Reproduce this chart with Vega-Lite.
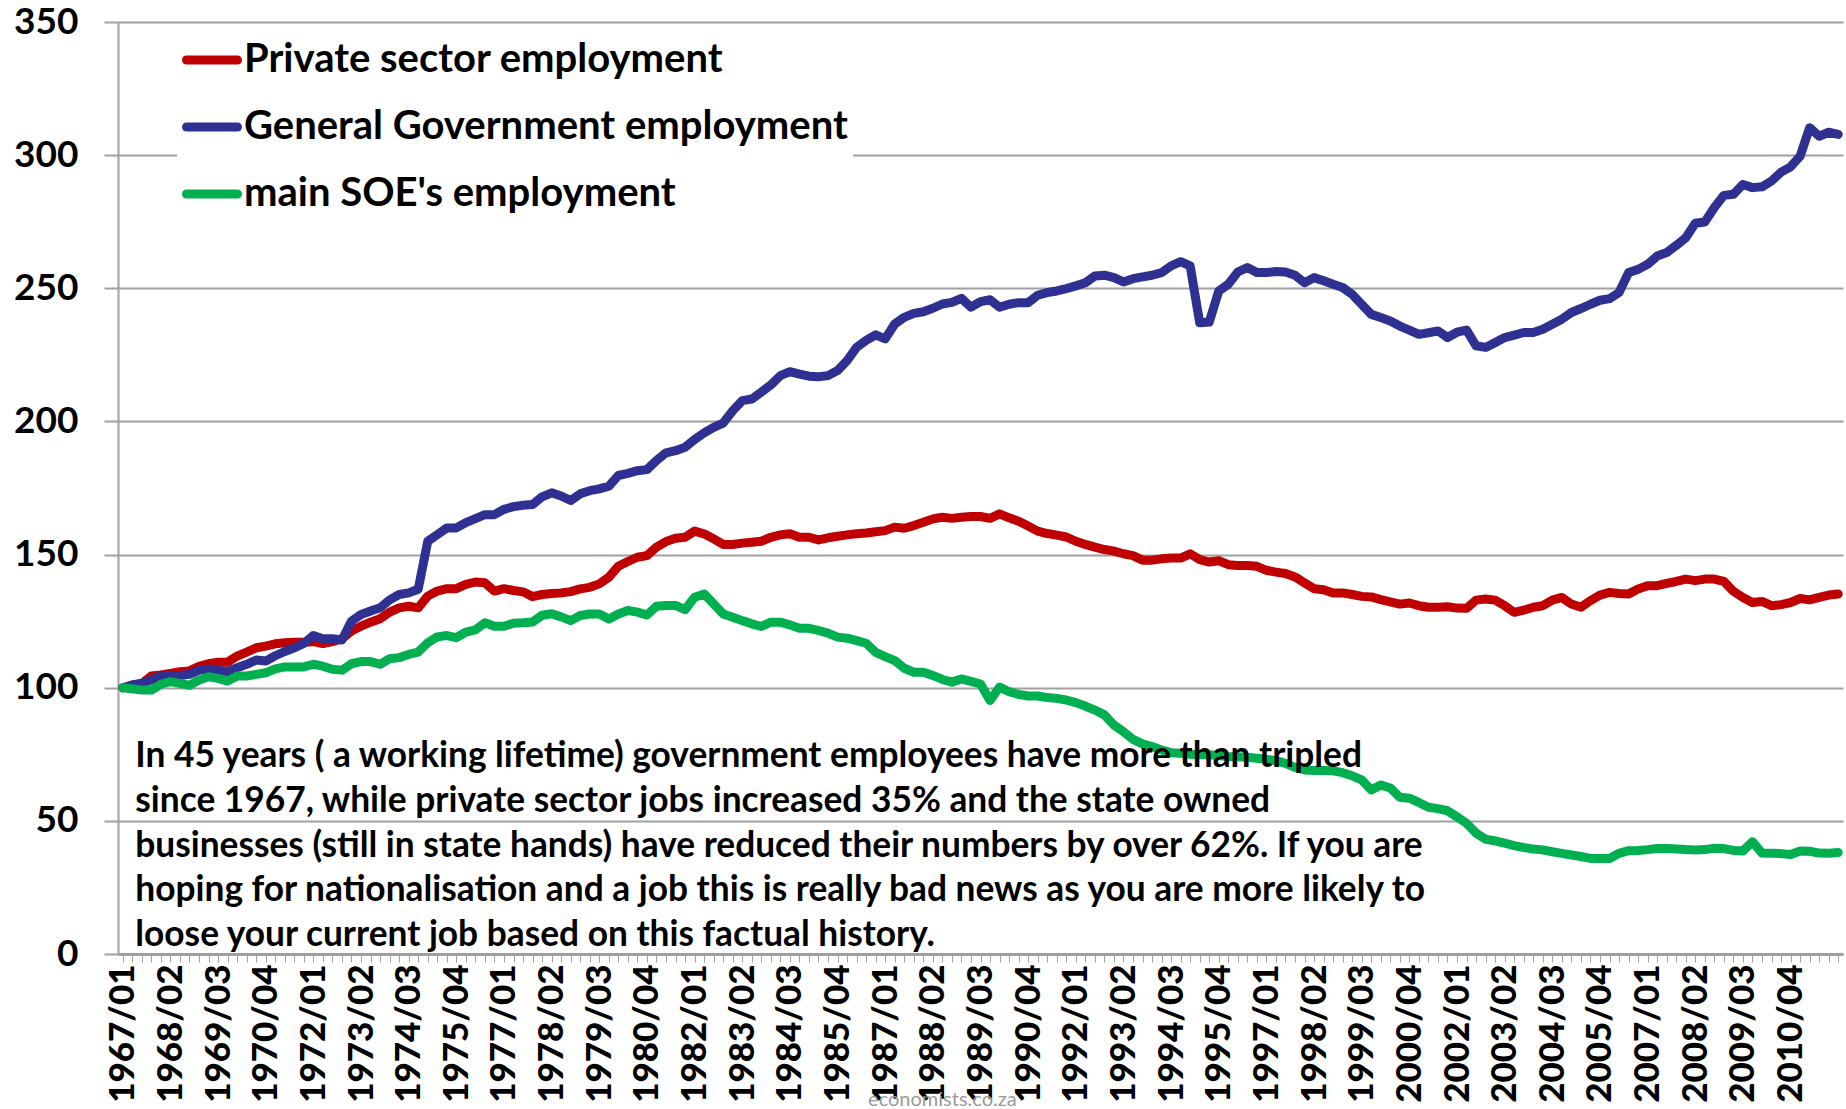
{
"$schema": "https://vega.github.io/schema/vega-lite/v6.json",
"width": 1725, "height": 932,
"autosize": "none",
"padding": {"left": 118, "top": 22, "right": 3, "bottom": 155},
"background": "white",
"config": {"view": {"stroke": null}, "font": "Lato"},
"data": {"values": [
{"q":"1967/01","P":100,"G":100,"S":100},{"q":"1967/02","P":101,"G":101,"S":99.6},{"q":"1967/03","P":101.6,"G":101.6,"S":99.1},{"q":"1967/04","P":104.4,"G":103,"S":99.1},
{"q":"1968/01","P":104.8,"G":104.4,"S":101.3},{"q":"1968/02","P":105.4,"G":104.4,"S":102.3},{"q":"1968/03","P":106,"G":104.6,"S":101.6},{"q":"1968/04","P":106.3,"G":105,"S":100.9},
{"q":"1969/01","P":108,"G":106.6,"S":102.9},{"q":"1969/02","P":109,"G":107,"S":104.1},{"q":"1969/03","P":109.6,"G":106.5,"S":103.5},{"q":"1969/04","P":109.6,"G":106,"S":102.5},
{"q":"1970/01","P":111.9,"G":107.5,"S":104.4},{"q":"1970/02","P":113.4,"G":108.8,"S":104.4},{"q":"1970/03","P":115,"G":110.4,"S":105},{"q":"1970/04","P":115.6,"G":110,"S":105.6},
{"q":"1971/01","P":116.5,"G":112,"S":107.1},{"q":"1971/02","P":116.9,"G":113.6,"S":107.8},{"q":"1971/03","P":117.1,"G":115,"S":107.8},{"q":"1971/04","P":117.1,"G":116.6,"S":107.8},
{"q":"1972/01","P":117.3,"G":119.6,"S":108.8},{"q":"1972/02","P":116.6,"G":118.4,"S":108.1},{"q":"1972/03","P":117.3,"G":118.4,"S":106.9},{"q":"1972/04","P":118.4,"G":117.9,"S":106.6},
{"q":"1973/01","P":121.3,"G":125,"S":109},{"q":"1973/02","P":123.1,"G":127.5,"S":109.8},{"q":"1973/03","P":124.6,"G":128.8,"S":109.8},{"q":"1973/04","P":125.9,"G":130,"S":108.8},
{"q":"1974/01","P":128.4,"G":133,"S":110.9},{"q":"1974/02","P":130,"G":135,"S":111.3},{"q":"1974/03","P":130.6,"G":135.6,"S":112.5},{"q":"1974/04","P":130,"G":137,"S":113.4},
{"q":"1975/01","P":134.4,"G":155,"S":116.9},{"q":"1975/02","P":136.3,"G":157.5,"S":119.1},{"q":"1975/03","P":137.2,"G":160,"S":119.6},{"q":"1975/04","P":137.2,"G":160,"S":118.8},
{"q":"1976/01","P":138.8,"G":162,"S":120.9},{"q":"1976/02","P":139.7,"G":163.5,"S":121.7},{"q":"1976/03","P":139.4,"G":165,"S":124.4},{"q":"1976/04","P":136.3,"G":165,"S":123.1},
{"q":"1977/01","P":137.2,"G":167,"S":123.1},{"q":"1977/02","P":136.5,"G":168,"S":124.2},{"q":"1977/03","P":136,"G":168.5,"S":124.4},{"q":"1977/04","P":134.2,"G":168.8,"S":124.7},
{"q":"1978/01","P":135,"G":171.7,"S":127.2},{"q":"1978/02","P":135.4,"G":173.2,"S":127.8},{"q":"1978/03","P":135.6,"G":172,"S":126.6},{"q":"1978/04","P":136.1,"G":170.3,"S":125.2},
{"q":"1979/01","P":137.1,"G":172.8,"S":127.1},{"q":"1979/02","P":137.7,"G":174,"S":127.7},{"q":"1979/03","P":139,"G":174.7,"S":127.7},{"q":"1979/04","P":141.5,"G":175.7,"S":125.8},
{"q":"1980/01","P":145.6,"G":179.7,"S":127.7},{"q":"1980/02","P":147.4,"G":180.5,"S":129},{"q":"1980/03","P":149,"G":181.5,"S":128.4},{"q":"1980/04","P":149.6,"G":181.9,"S":127.3},
{"q":"1981/01","P":152.8,"G":185.3,"S":130.6},{"q":"1981/02","P":154.9,"G":188.2,"S":130.9},{"q":"1981/03","P":156.1,"G":189,"S":130.9},{"q":"1981/04","P":156.5,"G":190.3,"S":129.3},
{"q":"1982/01","P":158.8,"G":193.2,"S":134},{"q":"1982/02","P":157.8,"G":195.7,"S":135.2},{"q":"1982/03","P":155.9,"G":197.8,"S":131.5},{"q":"1982/04","P":153.8,"G":199.4,"S":127.7},
{"q":"1983/01","P":153.8,"G":204,"S":126.5},{"q":"1983/02","P":154.3,"G":207.8,"S":125.2},{"q":"1983/03","P":154.6,"G":208.4,"S":124},{"q":"1983/04","P":155,"G":211,"S":123},
{"q":"1984/01","P":156.5,"G":213.7,"S":124.6},{"q":"1984/02","P":157.4,"G":217.2,"S":124.6},{"q":"1984/03","P":157.8,"G":218.7,"S":123.6},{"q":"1984/04","P":156.5,"G":217.8,"S":122.3},
{"q":"1985/01","P":156.5,"G":217,"S":122.3},{"q":"1985/02","P":155.5,"G":216.8,"S":121.5},{"q":"1985/03","P":156.3,"G":217.2,"S":120.5},{"q":"1985/04","P":156.9,"G":219.1,"S":119},
{"q":"1986/01","P":157.4,"G":222.8,"S":118.6},{"q":"1986/02","P":157.8,"G":227.8,"S":117.7},{"q":"1986/03","P":158.1,"G":230.4,"S":116.7},{"q":"1986/04","P":158.6,"G":232.5,"S":113.3},
{"q":"1987/01","P":159,"G":231,"S":111.7},{"q":"1987/02","P":160.3,"G":236.6,"S":110.2},{"q":"1987/03","P":159.9,"G":239.1,"S":107.3},{"q":"1987/04","P":160.9,"G":240.6,"S":105.8},
{"q":"1988/01","P":162.1,"G":241.2,"S":105.8},{"q":"1988/02","P":163.4,"G":242.5,"S":104.6},{"q":"1988/03","P":164,"G":244.1,"S":103.1},{"q":"1988/04","P":163.6,"G":244.7,"S":102.1},
{"q":"1989/01","P":164,"G":246.2,"S":103.3},{"q":"1989/02","P":164.3,"G":242.9,"S":102.4},{"q":"1989/03","P":164.3,"G":245,"S":101.4},{"q":"1989/04","P":163.6,"G":245.7,"S":95.2},
{"q":"1990/01","P":165.3,"G":242.9,"S":100.2},{"q":"1990/02","P":163.8,"G":244,"S":98.5},{"q":"1990/03","P":162.5,"G":244.6,"S":97.5},{"q":"1990/04","P":160.7,"G":244.6,"S":96.9},
{"q":"1991/01","P":158.8,"G":247.4,"S":96.9},{"q":"1991/02","P":157.9,"G":248.4,"S":96.3},{"q":"1991/03","P":157.3,"G":249,"S":96},{"q":"1991/04","P":156.6,"G":249.9,"S":95.4},
{"q":"1992/01","P":155,"G":250.9,"S":94.4},{"q":"1992/02","P":153.8,"G":252.1,"S":93.1},{"q":"1992/03","P":152.8,"G":254.6,"S":91.6},{"q":"1992/04","P":151.9,"G":254.9,"S":89.8},
{"q":"1993/01","P":151.3,"G":254,"S":86},{"q":"1993/02","P":150.3,"G":252.4,"S":83.5},{"q":"1993/03","P":149.6,"G":253.6,"S":80.6},{"q":"1993/04","P":147.9,"G":254.3,"S":78.9},
{"q":"1994/01","P":147.9,"G":254.9,"S":77.9},{"q":"1994/02","P":148.4,"G":255.9,"S":76.6},{"q":"1994/03","P":148.7,"G":258.4,"S":75.6},{"q":"1994/04","P":148.7,"G":260,"S":75.4},
{"q":"1995/01","P":150.3,"G":258.4,"S":75},{"q":"1995/02","P":148.1,"G":237.1,"S":74.8},{"q":"1995/03","P":147.2,"G":237.3,"S":74.8},{"q":"1995/04","P":147.7,"G":249,"S":74.5},
{"q":"1996/01","P":146.2,"G":251.5,"S":74.1},{"q":"1996/02","P":145.9,"G":256.1,"S":74.1},{"q":"1996/03","P":145.9,"G":257.8,"S":73.9},{"q":"1996/04","P":145.6,"G":255.9,"S":73.5},
{"q":"1997/01","P":144.1,"G":255.9,"S":73.1},{"q":"1997/02","P":143.4,"G":256.3,"S":72.6},{"q":"1997/03","P":142.9,"G":256.1,"S":71.6},{"q":"1997/04","P":141.6,"G":254.9,"S":70.1},
{"q":"1998/01","P":139.4,"G":252.1,"S":69.1},{"q":"1998/02","P":137.2,"G":254,"S":68.9},{"q":"1998/03","P":136.8,"G":252.8,"S":68.9},{"q":"1998/04","P":135.6,"G":251.5,"S":68.8},
{"q":"1999/01","P":135.6,"G":250.3,"S":68.1},{"q":"1999/02","P":135,"G":247.7,"S":66.9},{"q":"1999/03","P":134.3,"G":244,"S":65.4},{"q":"1999/04","P":134.1,"G":240.2,"S":61.6},
{"q":"2000/01","P":133.1,"G":239,"S":63.5},{"q":"2000/02","P":132.2,"G":237.7,"S":62.3},{"q":"2000/03","P":131.4,"G":235.8,"S":58.9},{"q":"2000/04","P":131.8,"G":234.3,"S":58.5},
{"q":"2001/01","P":130.8,"G":232.7,"S":56.9},{"q":"2001/02","P":130.2,"G":233.3,"S":55.1},{"q":"2001/03","P":130.2,"G":234,"S":54.6},{"q":"2001/04","P":130.4,"G":231.5,"S":53.8},
{"q":"2002/01","P":129.9,"G":233.5,"S":51.5},{"q":"2002/02","P":129.8,"G":234.3,"S":49.1},{"q":"2002/03","P":132.9,"G":228.4,"S":45.4},{"q":"2002/04","P":133.3,"G":227.8,"S":43.1},
{"q":"2003/01","P":132.9,"G":229.6,"S":42.5},{"q":"2003/02","P":130.8,"G":231.5,"S":41.6},{"q":"2003/03","P":128.3,"G":232.4,"S":40.7},{"q":"2003/04","P":129.1,"G":233.4,"S":40},
{"q":"2004/01","P":130.2,"G":233.4,"S":39.4},{"q":"2004/02","P":130.8,"G":234.6,"S":39.1},{"q":"2004/03","P":132.9,"G":236.5,"S":38.4},{"q":"2004/04","P":133.9,"G":238.4,"S":37.8},
{"q":"2005/01","P":131.4,"G":240.9,"S":37.2},{"q":"2005/02","P":130.2,"G":242.4,"S":36.6},{"q":"2005/03","P":132.7,"G":244,"S":35.9},{"q":"2005/04","P":134.8,"G":245.5,"S":35.9},
{"q":"2006/01","P":135.8,"G":246.1,"S":35.9},{"q":"2006/02","P":135.4,"G":248.4,"S":37.8},{"q":"2006/03","P":135.2,"G":255.9,"S":38.8},{"q":"2006/04","P":137.1,"G":257.1,"S":38.9},
{"q":"2007/01","P":138.3,"G":259,"S":39.2},{"q":"2007/02","P":138.3,"G":262.1,"S":39.6},{"q":"2007/03","P":139.2,"G":263.4,"S":39.6},{"q":"2007/04","P":139.9,"G":266.1,"S":39.4},
{"q":"2008/01","P":140.8,"G":269,"S":39.2},{"q":"2008/02","P":140.2,"G":274.4,"S":39.1},{"q":"2008/03","P":140.8,"G":274.9,"S":39.2},{"q":"2008/04","P":140.8,"G":280.3,"S":39.7},
{"q":"2009/01","P":139.9,"G":284.9,"S":39.6},{"q":"2009/02","P":136.2,"G":285.3,"S":38.9},{"q":"2009/03","P":133.9,"G":289,"S":38.7},{"q":"2009/04","P":132,"G":287.8,"S":42.2},
{"q":"2010/01","P":132.4,"G":288.1,"S":37.9},{"q":"2010/02","P":130.8,"G":290.3,"S":37.8},{"q":"2010/03","P":131.2,"G":293.6,"S":37.7},{"q":"2010/04","P":132,"G":295.6,"S":37.4},
{"q":"2011/01","P":133.5,"G":299.6,"S":38.7},{"q":"2011/02","P":133,"G":310.3,"S":38.6},{"q":"2011/03","P":133.9,"G":307.1,"S":37.9},{"q":"2011/04","P":134.8,"G":308.6,"S":37.8},
{"q":"2012/01","P":135.2,"G":307.8,"S":38.1}
]},
"layer": [
{
"transform": [{"fold": ["P","G","S"], "as": ["k","v"]}],
"mark": {"type": "line", "strokeWidth": 9, "strokeCap": "round", "strokeJoin": "round"},
"encoding": {
"x": {"field": "q", "type": "ordinal", "sort": null, "scale": {"type": "point", "padding": 0.5},
"axis": {"title": null, "labelAngle": -90, "labelExpr": "(datum.value != '2012/01') && ((toNumber(slice(datum.value,0,4))-1967)*4+toNumber(slice(datum.value,5,7))-1)%5==0 ? datum.value : ''", "labelOverlap": false, "labelBound": false, "labelFont": "Lato", "labelFontWeight": 900, "labelFontSize": 35, "labelColor": "black", "labelPadding": 2, "tickSize": 8, "tickColor": "#A0A0A0", "tickWidth": 1, "domainColor": "#A0A0A0", "domainWidth": 3, "grid": false}},
"y": {"field": "v", "type": "quantitative", "scale": {"domain": [0, 350], "nice": false},
"axis": {"title": null, "values": [0,50,100,150,200,250,300,350], "grid": true, "gridColor": "#A0A0A0", "gridWidth": 2, "domainColor": "#A0A0A0", "domainWidth": 2, "tickSize": 14, "tickColor": "#A0A0A0", "tickWidth": 2, "labelFont": "Lato", "labelFontSize": 37, "labelFontWeight": "bold", "labelColor": "black", "labelPadding": 26}},
"color": {"field": "k", "type": "nominal", "scale": {"domain": ["P","G","S"], "range": ["#C00000","#2E3192","#00B050"]},
"legend": {"orient": "none", "legendX": 59, "legendY": 3, "title": null, "symbolType": "stroke", "symbolStrokeWidth": 9, "symbolSize": 2601, "labelFont": "Lato", "labelFontSize": 40, "labelFontWeight": "bold", "labelColor": "black", "labelLimit": 0, "labelOffset": 2, "rowPadding": 17, "padding": 5, "fillColor": "white",
"labelExpr": "datum.value == 'P' ? 'Private sector employment' : datum.value == 'G' ? 'General Government employment' : \"main SOE's employment\"",
"encode": {"symbols": {"update": {"strokeCap": {"value": "round"}}}}}}
}
},
{
"data": {"values": [{"t": "note"}]},
"mark": {"type": "text", "align": "left", "baseline": "alphabetic", "font": "Lato", "fontWeight": "bold", "fontSize": 35.3, "lineHeight": 44.7, "color": "black", "dx": 3,
"text": ["In 45 years ( a working lifetime) government employees have more than tripled", "since 1967, while private sector jobs increased 35% and the state owned", "businesses (still in state hands) have reduced their numbers by over 62%. If you are", "hoping for nationalisation and a job this is really bad news as you are more likely to", "loose your current job based on this factual history."]},
"encoding": {"x": {"datum": "1967/02"}, "y": {"datum": 70.1}}
},
{
"data": {"values": [{"t": "mark"}]},
"mark": {"type": "text", "align": "center", "baseline": "middle", "font": "Lato", "fontSize": 20, "color": "#9A9A9A", "text": "economists.co.za"},
"encoding": {"x": {"datum": "1988/03"}, "y": {"datum": -55}}
}
]
}
